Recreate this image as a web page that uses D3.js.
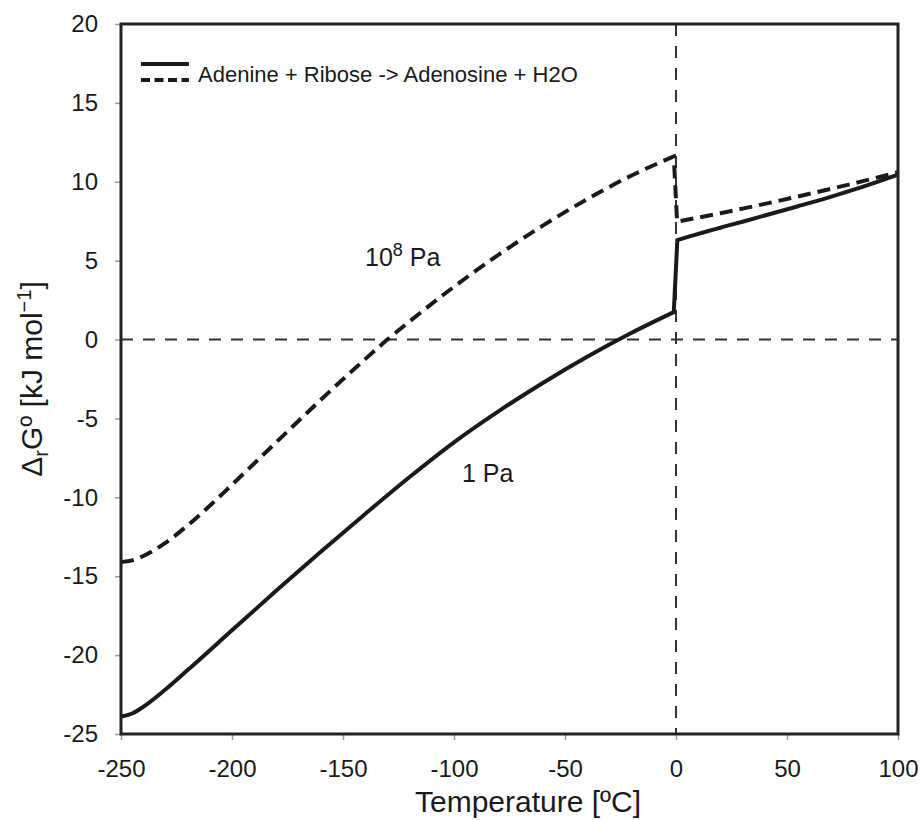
<!DOCTYPE html>
<html>
<head>
<meta charset="utf-8">
<title>Adenosine formation</title>
<script src="https://cdn.jsdelivr.net/npm/d3@7/dist/d3.min.js"></script>
<style>
body{
  margin:0;
  background:#fff}

svg{
  display:block}

text{
  font-family:"Liberation Sans", Arial, sans-serif;
  fill:#1a1a1a}

.tick text{
  font-size:24px}

.tick line{
  stroke:#999;
  stroke-width:1.5}
</style>
</head>
<body>
<script>
// 1 Pa curve, below and above 0 degC
const lowT1 = [-250, -245, -240, -230, -220, -200, -180, -160, -140, -120, -100, -80, -60, -40, -20, -1]
const lowG1 = [-23.9, -23.7, -23.28, -22.18, -20.95, -18.43, -15.91, -13.45, -11.05, -8.71, -6.51, -4.55, -2.75, -1.09, 0.43, 1.74]
const highT1 = [0.6, 10, 25, 40, 55, 70, 85, 100]
const highG1 = [6.3, 6.7, 7.28, 7.86, 8.45, 9.06, 9.72, 10.45]

// 10^8 Pa curve
const lowT8 = [-250, -245, -240, -230, -220, -210, -200, -180, -160, -140, -130, -120, -100, -80, -60, -40, -20, -1]
const lowG8 = [-14.1, -14.0, -13.72, -12.88, -11.78, -10.53, -9.2, -6.5, -3.82, -1.24, 0, 1.15, 3.35, 5.37, 7.22, 8.9, 10.4, 11.6]
const highT8 = [0.5, 10, 20, 30, 40, 55, 70, 85, 100]
const highG8 = [7.47, 7.73, 8.01, 8.3, 8.6, 9.07, 9.56, 10.07, 10.6]

const xTicks = [-250, -200, -150, -100, -50, 0, 50, 100]
const yTicks = [-25, -20, -15, -10, -5, 0, 5, 10, 15, 20]

const width = 922
const height = 820
const plot = { left: 121, right: 898, top: 24, bottom: 734 }

const svg = d3.select('body')
  .append('svg')
    .attr('width', width)
    .attr('height', height)

const x = d3.scaleLinear().domain([-250, 100]).range([plot.left, plot.right])
const y = d3.scaleLinear().domain([-25, 20]).range([plot.bottom, plot.top])

// axes (ticks + labels only, frame drawn separately)
const xAxis = svg.append('g')
    .attr('transform', `translate(0, ${plot.bottom})`)
    .call(d3.axisBottom(x).tickValues(xTicks).tickFormat(d => String(d)).tickSize(6).tickPadding(20))
xAxis.select('.domain').remove()

const yAxis = svg.append('g')
    .attr('transform', `translate(${plot.left}, 0)`)
    .call(d3.axisLeft(y).tickValues(yTicks).tickFormat(d => String(d)).tickSize(6).tickPadding(17))
yAxis.select('.domain').remove()

// zero reference lines
svg.append('line')
    .attr('x1', x(-250)).attr('x2', x(100))
    .attr('y1', y(0)).attr('y2', y(0))
    .style('stroke', '#333')
    .style('stroke-width', 2)
    .style('stroke-dasharray', '12,10')

svg.append('line')
    .attr('x1', x(0)).attr('x2', x(0))
    .attr('y1', y(20)).attr('y2', y(-25))
    .style('stroke', '#333')
    .style('stroke-width', 2)
    .style('stroke-dasharray', '12,10')

// curves: smooth branches joined by the jump at 0 degC
const line = d3.line()
    .x(d => x(d[0]))
    .y(d => y(d[1]))
    .curve(d3.curveMonotoneX)

const curvePath = (lt, lg, ht, hg) =>
  line(d3.zip(lt, lg)) + line(d3.zip(ht, hg)).replace(/^M/, 'L')

svg.append('path')
    .attr('d', curvePath(lowT8, lowG8, highT8, highG8))
    .style('fill', 'none')
    .style('stroke', '#1a1a1a')
    .style('stroke-width', 4)
    .style('stroke-dasharray', '13,7')

svg.append('path')
    .attr('d', curvePath(lowT1, lowG1, highT1, highG1))
    .style('fill', 'none')
    .style('stroke', '#1a1a1a')
    .style('stroke-width', 4)

// frame
svg.append('rect')
    .attr('x', plot.left)
    .attr('y', plot.top)
    .attr('width', plot.right - plot.left)
    .attr('height', plot.bottom - plot.top)
    .style('fill', 'none')
    .style('stroke', '#222')
    .style('stroke-width', 3)

// legend
svg.append('line')
    .attr('x1', 141).attr('x2', 189).attr('y1', 64).attr('y2', 64)
    .style('stroke', '#1a1a1a').style('stroke-width', 4)
svg.append('line')
    .attr('x1', 141).attr('x2', 189).attr('y1', 80).attr('y2', 80)
    .style('stroke', '#1a1a1a').style('stroke-width', 4)
    .style('stroke-dasharray', '9,4.5')
svg.append('text')
    .attr('x', 198).attr('y', 82)
    .style('font-size', '22px')
    .text('Adenine + Ribose -> Adenosine + H2O')

// curve labels
const lab8 = svg.append('text')
    .attr('x', 365).attr('y', 266)
    .style('font-size', '25px')
lab8.append('tspan').text('10')
lab8.append('tspan').attr('dy', -10).style('font-size', '18px').text('8')
lab8.append('tspan').attr('dy', 10).text(' Pa')

svg.append('text')
    .attr('x', 462).attr('y', 482)
    .style('font-size', '25px')
    .text('1 Pa')

// axis titles
svg.append('text')
    .attr('x', 528).attr('y', 812)
    .style('text-anchor', 'middle')
    .style('font-size', '30px')
    .text('Temperature [ºC]')

const yt = svg.append('text')
    .attr('transform', `translate(42, ${(plot.top + plot.bottom) / 2}) rotate(-90)`)
    .style('text-anchor', 'middle')
    .style('font-size', '30px')
yt.append('tspan').text('Δ')
yt.append('tspan').attr('dy', 6).style('font-size', '20px').text('r')
yt.append('tspan').attr('dy', -6).text('Gº [kJ mol')
yt.append('tspan').attr('dy', -11).style('font-size', '20px').text('−1')
yt.append('tspan').attr('dy', 11).text(']')
</script>
</body>
</html>
